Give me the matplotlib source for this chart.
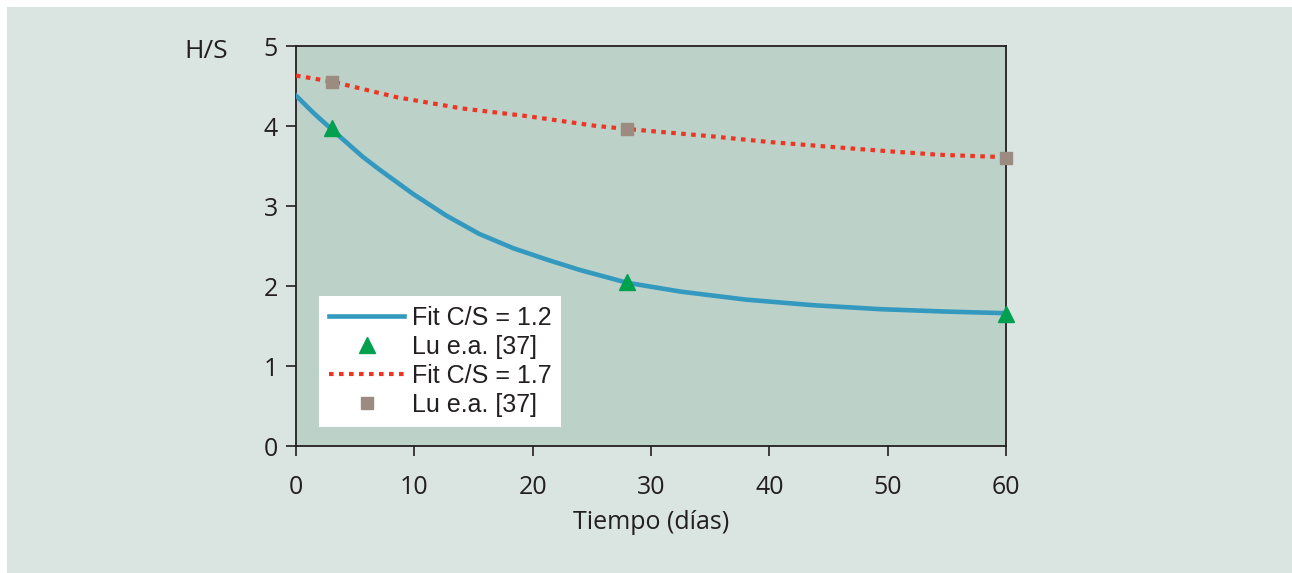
import matplotlib.pyplot as plt
from matplotlib.patches import Rectangle

# fitted curves
fit12_t = [0, 1.5, 3, 5.6, 7.1, 9.9, 12.7, 15.5, 18.4, 21.2, 24, 28, 32.5, 38,
           43.7, 49.4, 55, 60]
fit12_hs = [4.38, 4.16, 3.96, 3.62, 3.45, 3.15, 2.88, 2.65, 2.47, 2.33, 2.20, 2.04,
            1.93, 1.83, 1.76, 1.71, 1.68, 1.66]
fit17_t = [0, 3.2, 8.5, 14, 19.7, 25.4, 28.2, 35.2, 40, 46, 50, 54.4, 60]
fit17_hs = [4.63, 4.55, 4.36, 4.22, 4.12, 4.00, 3.96, 3.87, 3.80, 3.73, 3.685, 3.64,
            3.61]

# measured points (Lu e.a. [37])
lu12_t = [3, 28, 60]
lu12_hs = [3.97, 2.05, 1.65]
lu17_t = [3, 28, 60]
lu17_hs = [4.55, 3.96, 3.60]

xticks = [0, 10, 20, 30, 40, 50, 60]
yticks = [0, 1, 2, 3, 4, 5]

W, H = 1292, 573
fig = plt.figure(figsize=(W / 100, H / 100), dpi=100)
fig.patch.set_facecolor('white')
fig.patches.append(Rectangle((7 / W, 0), 1, 1 - 7 / H, transform=fig.transFigure,
                             facecolor='#dae4e0', edgecolor='none', zorder=-10))

ax = fig.add_axes([296 / W, 1 - 446 / H, 710 / W, 400 / H])
ax.set_facecolor('#bcd1c8')

ax.plot(fit12_t, fit12_hs, color='#3399bf', lw=3.3, label='Fit C/S = 1.2', zorder=3)
ax.plot(lu12_t, lu12_hs, ls='none', marker='^', ms=12, color='#00a04f',
        label='Lu e.a. [37]', zorder=4, clip_on=False)
ax.plot(fit17_t, fit17_hs, color='#ee3524', lw=3.0, ls=(0, (1.1, 1.3)),
        dash_capstyle='butt', label='Fit C/S = 1.7', zorder=3)
ax.plot(lu17_t, lu17_hs, ls='none', marker='s', ms=8.5, color='#9b8b80',
        label='Lu e.a. [37]', zorder=4, clip_on=False)

ax.set_xlim(0, 60)
ax.set_ylim(0, 5)
ax.set_xticks(xticks)
ax.set_yticks(yticks)
ax.tick_params(direction='out', length=7, width=1.2, colors='#231f20',
               labelsize=18)
ax.tick_params(axis='x', pad=14)
ax.tick_params(axis='y', pad=6)
for lab in ax.get_xticklabels() + ax.get_yticklabels():
    lab.set_fontfamily('Open Sans')
    lab.set_color('#231f20')
for s in ax.spines.values():
    s.set_color('#231f20')
    s.set_linewidth(1.3)

ax.set_xlabel('Tiempo (días)', fontsize=18, family='Open Sans', color='#231f20',
              labelpad=7)
ax.text(-0.127, 0.985, 'H/S', transform=ax.transAxes, fontsize=19, family='Open Sans',
        color='#231f20', ha='center', va='center')

leg = ax.legend(loc='upper left', bbox_to_anchor=(23 / 710, 1 - 250 / 400),
                frameon=True, fancybox=False, framealpha=1, facecolor='white',
                edgecolor='none', prop={'family': 'Liberation Sans', 'size': 18},
                handlelength=3.0, handletextpad=0.3, labelspacing=0.2,
                borderpad=0.4, borderaxespad=0)
for t in leg.get_texts():
    t.set_color('#231f20')

fig.savefig('out.png', dpi=100, facecolor=fig.get_facecolor())
